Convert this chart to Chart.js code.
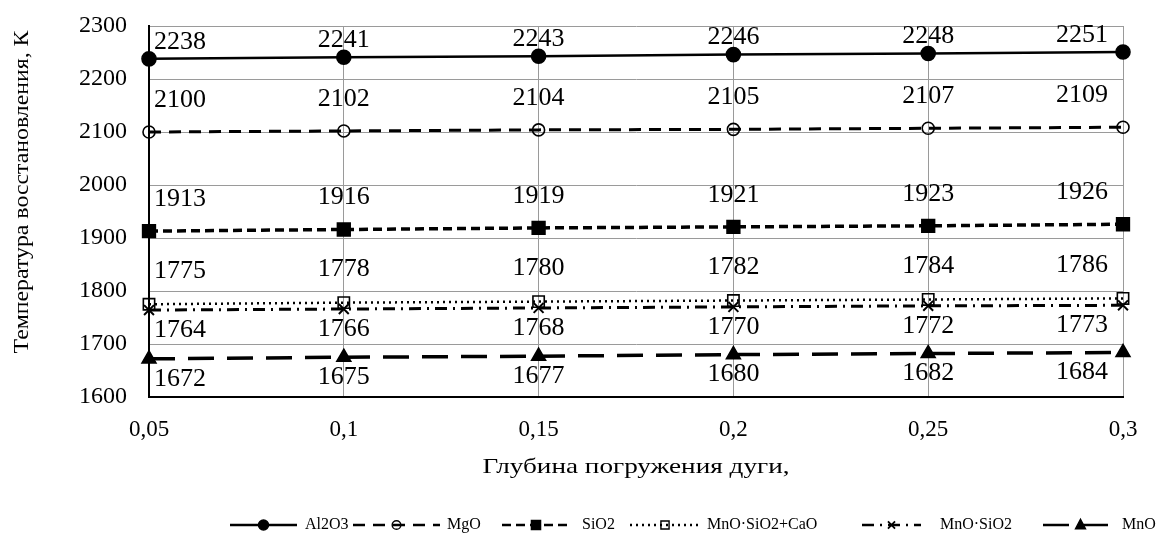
<!DOCTYPE html>
<html><head><meta charset="utf-8">
<script src="https://cdn.jsdelivr.net/npm/chart.js@4.4.1/dist/chart.umd.min.js"></script>
<style>html,body{margin:0;padding:0;background:#fff}#wrap{width:1165px;height:545px}</style>
</head><body><div id="wrap"><canvas id="c" width="1165" height="545"></canvas></div>
<script>
// ---- data ----
const categories = ['0,05', '0,1', '0,15', '0,2', '0,25', '0,3'];
const seriesNames = ['Al2O3', 'MgO', 'SiO2', 'MnO·SiO2+CaO', 'MnO·SiO2', 'MnO'];
const al2o3 = [2238, 2241, 2243, 2246, 2248, 2251];
const mgo = [2100, 2102, 2104, 2105, 2107, 2109];
const sio2 = [1913, 1916, 1919, 1921, 1923, 1926];
const mnoSio2Cao = [1775, 1778, 1780, 1782, 1784, 1786];
const mnoSio2 = [1764, 1766, 1768, 1770, 1772, 1773];
const mno = [1672, 1675, 1677, 1680, 1682, 1684];
const yMin = 1600, yMax = 2300, yStep = 100;
const xTitle = 'Глубина погружения дуги,';
const yTitle = 'Температура восстановления, К';

// ---- styles ----
const serif = "'Liberation Serif', 'Times New Roman', serif";
const styles = [
  {dash: [], width: 2.5, point: 'circle', r: 7, fill: true, labelDy: -17},
  {dash: [12, 8], width: 3, point: 'circle', r: 6, fill: false, labelDy: -32},
  {dash: [9, 5], width: 3.5, point: 'rect', r: 9, fill: true, labelDy: -32},
  {dash: [2, 4], width: 2.5, point: 'rect', r: 8, fill: false, labelDy: -33},
  {dash: [12, 6, 2, 6], width: 3, point: 'crossRot', r: 7, fill: false, labelDy: 20},
  {dash: [26, 13], width: 3.5, point: 'triangle', r: 8, fill: true, labelDy: 20}
];
const legendPos = [
  {x0: 230, x1: 297, tx: 305},
  {x0: 353, x1: 440, tx: 447},
  {x0: 502, x1: 570, tx: 582},
  {x0: 630, x1: 700, tx: 707},
  {x0: 862, x1: 921, tx: 940},
  {x0: 1043, x1: 1118, tx: 1122}
];
const allSeries = [al2o3, mgo, sio2, mnoSio2Cao, mnoSio2, mno];

function drawMarker(ctx, st, x, y, k) {
  ctx.save();
  ctx.setLineDash([]);
  ctx.lineWidth = st.point === 'crossRot' ? 1.8 : 1.4;
  ctx.strokeStyle = '#000';
  ctx.fillStyle = '#000';
  const r = st.r * k;
  ctx.beginPath();
  if (st.point === 'circle') {
    ctx.arc(x, y, r, 0, Math.PI * 2);
  } else if (st.point === 'rect') {
    const s = Math.SQRT1_2 * r;
    ctx.rect(x - s, y - s, 2 * s, 2 * s);
  } else if (st.point === 'triangle') {
    ctx.moveTo(x, y - r);
    ctx.lineTo(x + r * 0.866, y + r * 0.5 + 1);
    ctx.lineTo(x - r * 0.866, y + r * 0.5 + 1);
    ctx.closePath();
  } else if (st.point === 'crossRot') {
    const s = r * 0.7;
    ctx.moveTo(x - s, y - s); ctx.lineTo(x + s, y + s);
    ctx.moveTo(x + s, y - s); ctx.lineTo(x - s, y + s);
  }
  if (st.fill && st.point !== 'crossRot') ctx.fill();
  ctx.stroke();
  ctx.restore();
}

const extras = {
  id: 'extras',
  afterDatasetsDraw(chart) {
    const ctx = chart.ctx;
    const area = chart.chartArea;
    // data labels
    ctx.save();
    ctx.font = '26px ' + serif;
    ctx.fillStyle = '#000';
    ctx.textAlign = 'center';
    ctx.textBaseline = 'middle';
    chart.data.datasets.forEach((ds, di) => {
      const meta = chart.getDatasetMeta(di);
      meta.data.forEach((pt, i) => {
        const txt = String(ds.data[i]);
        const hw = ctx.measureText(txt).width / 2;
        let cx = pt.x;
        cx = Math.max(cx, area.left + 5 + hw);
        cx = Math.min(cx, area.right - 15 - hw);
        ctx.fillText(txt, cx, pt.y + styles[di].labelDy);
      });
    });
    ctx.restore();

    // axis titles (stretched to match)
    ctx.save();
    ctx.fillStyle = '#000';
    ctx.textAlign = 'center';
    ctx.textBaseline = 'middle';
    ctx.font = '21px ' + serif;
    let w = ctx.measureText(xTitle).width;
    ctx.translate((area.left + area.right) / 2, 467);
    ctx.scale(307 / w, 1);
    ctx.fillText(xTitle, 0, 0);
    ctx.restore();

    ctx.save();
    ctx.fillStyle = '#000';
    ctx.textAlign = 'center';
    ctx.textBaseline = 'middle';
    ctx.font = '21px ' + serif;
    w = ctx.measureText(yTitle).width;
    ctx.translate(22, 192);
    ctx.rotate(-Math.PI / 2);
    ctx.scale(323 / w, 1);
    ctx.fillText(yTitle, 0, 0);
    ctx.restore();

    // legend
    const ly = 525;
    chart.data.datasets.forEach((ds, di) => {
      const st = styles[di], p = legendPos[di];
      ctx.save();
      ctx.strokeStyle = '#000';
      ctx.lineWidth = Math.min(st.width, 2.5);
      ctx.setLineDash(st.dash);
      ctx.beginPath();
      ctx.moveTo(p.x0, ly);
      ctx.lineTo(p.x1, ly);
      ctx.stroke();
      ctx.restore();
      drawMarker(ctx, st, (p.x0 + p.x1) / 2, ly, 0.72);
      ctx.save();
      ctx.font = '16px ' + serif;
      ctx.fillStyle = '#000';
      ctx.textAlign = 'left';
      ctx.textBaseline = 'middle';
      ctx.fillText(ds.label, p.tx, ly);
      ctx.restore();
    });
  }
};

const datasets = allSeries.map((vals, i) => ({
  label: seriesNames[i],
  data: vals,
  borderColor: '#000',
  borderWidth: styles[i].width,
  borderDash: styles[i].dash,
  pointStyle: styles[i].point,
  pointRadius: styles[i].r,
  pointBorderWidth: styles[i].point === 'crossRot' ? 2 : 1.6,
  pointBorderColor: '#000',
  pointBackgroundColor: styles[i].fill ? '#000' : 'rgba(0,0,0,0)',
  tension: 0,
  fill: false,
  clip: false
}));

new Chart(document.getElementById('c'), {
  type: 'line',
  data: {labels: categories, datasets},
  options: {
    responsive: false,
    animation: false,
    devicePixelRatio: 1,
    layout: {padding: {top: 26, right: 42, left: 0, bottom: 0}},
    plugins: {legend: {display: false}, tooltip: {enabled: false}},
    scales: {
      x: {
        offset: false,
        grid: {color: '#9a9a9a', lineWidth: 1, drawTicks: false},
        border: {color: '#000', width: 2},
        ticks: {font: {family: serif, size: 23}, color: '#000', padding: 19, maxRotation: 0, autoSkip: false},
        afterFit(s) { s.height = 148; }
      },
      y: {
        min: yMin, max: yMax,
        grid: {color: '#9a9a9a', lineWidth: 1, drawTicks: false},
        border: {color: '#000', width: 2},
        ticks: {stepSize: yStep, font: {family: serif, size: 24}, color: '#000', padding: 22,
                callback: v => String(v)},
        afterFit(s) { s.width = 149; s.paddingTop = 0; s.paddingBottom = 0; }
      }
    }
  },
  plugins: [extras]
});
</script>
</body></html>
